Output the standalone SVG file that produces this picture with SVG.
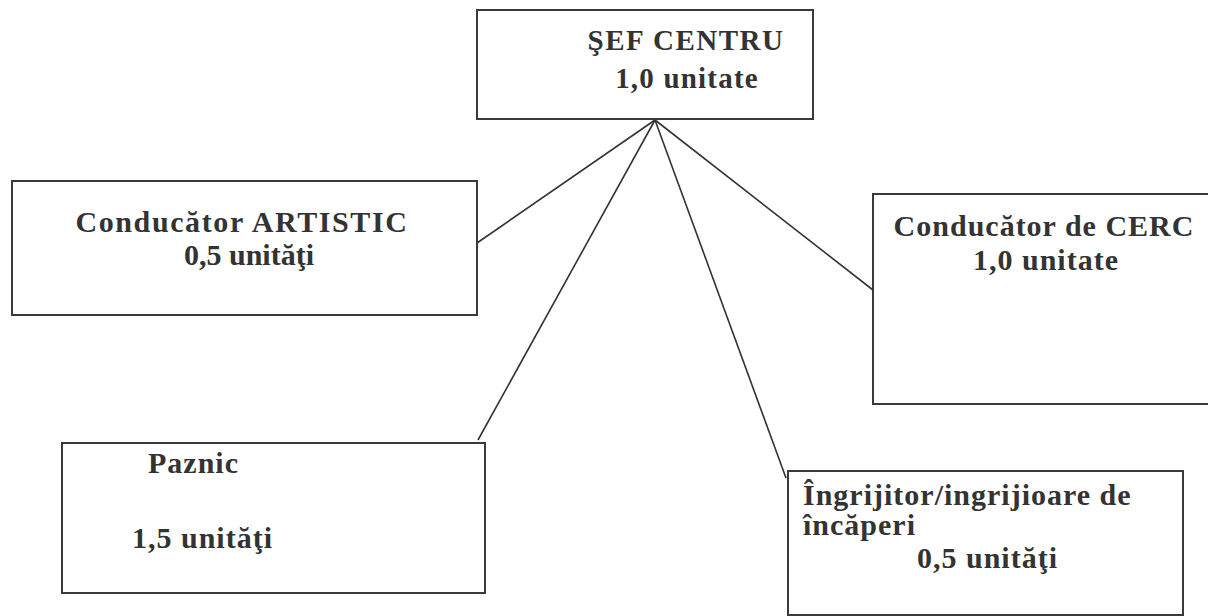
<svg xmlns="http://www.w3.org/2000/svg" width="1208" height="616" viewBox="0 0 1208 616">
<style>
.box{fill:none;stroke:#3a3a3a;stroke-width:2}
.t{font-weight:bold;font-size:30px;fill:#333;letter-spacing:1px}
.c{stroke:#333;stroke-width:1.6;fill:none}
</style>
<rect width="1208" height="616" fill="#fff"/>
<g font-family="'Liberation Serif', 'Times New Roman', 'DejaVu Serif', serif">
<g id="sef-centru">
<rect class="box" x="477" y="10" width="336" height="109"/>
<text class="t" x="686" y="50" text-anchor="middle" style="font-size:29px;letter-spacing:1.5px">ŞEF CENTRU</text>
<text class="t" x="687" y="88" text-anchor="middle" style="font-size:29px;letter-spacing:1.2px">1,0 unitate</text>
</g>
<g id="conducator-artistic">
<rect class="box" x="12" y="181" width="465" height="134"/>
<text class="t" x="242" y="232" text-anchor="middle" style="letter-spacing:1.6px">Conducător ARTISTIC</text>
<text class="t" x="249" y="265" text-anchor="middle" style="letter-spacing:0px">0,5 unităţi</text>
</g>
<g id="conducator-cerc">
<path class="box" d="M1210 194 H873 V404 H1210"/>
<text class="t" x="1044" y="236" text-anchor="middle">Conducător de CERC</text>
<text class="t" x="1046" y="270" text-anchor="middle">1,0 unitate</text>
</g>
<g id="paznic">
<rect class="box" x="62" y="443" width="423" height="150"/>
<text class="t" x="148" y="473">Paznic</text>
<text class="t" x="132" y="548">1,5 unităţi</text>
</g>
<g id="ingrijitor">
<path class="box" d="M788 471 H1183 V615 H788 Z"/>
<text class="t" x="803" y="505">Îngrijitor/ingrijioare de</text>
<text class="t" x="803" y="535">încăperi</text>
<text class="t" x="917" y="568">0,5 unităţi</text>
</g>
</g>
<g id="connectors">
<line class="c" x1="655" y1="120" x2="477" y2="243"/>
<line class="c" x1="655" y1="120" x2="478" y2="440"/>
<line class="c" x1="655" y1="120" x2="786" y2="478"/>
<line class="c" x1="655" y1="120" x2="873" y2="290"/>
</g>
</svg>
